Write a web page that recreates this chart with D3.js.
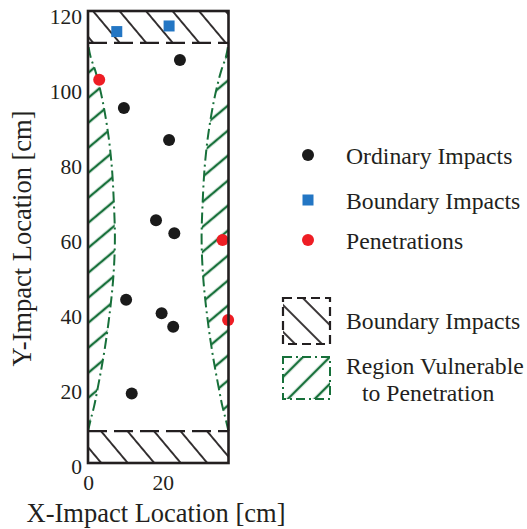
<!DOCTYPE html>
<html>
<head>
<meta charset="utf-8">
<script src="https://cdn.jsdelivr.net/npm/d3@7"></script>
<style>
  body { margin: 0; background: #fff; }
  svg { display: block; }
  text { font-family: "Liberation Serif", "Times New Roman", serif; fill: #231f20; }
</style>
</head>
<body>
<svg id="chart" width="527" height="529"></svg>
<script>
// ---- data (cm) ----
const xTicks = [0, 20];
const yTicks = [0, 20, 40, 60, 80, 100, 120];

const ordinaryX = [24.6, 9.6, 21.7, 18.2, 23.1, 10.2, 19.7, 22.8, 11.7];
const ordinaryY = [107.7, 94.9, 86.3, 64.9, 61.4, 43.6, 40.0, 36.4, 18.6];

const boundaryX = [7.7, 21.7];
const boundaryY = [115.3, 116.8];

const penetrationX = [3.0, 36.0, 37.5];
const penetrationY = [102.4, 59.6, 38.2];

// plate extent and the two boundary bands (bottom band top, top band bottom)
const plateWidth = 37.6;
const plateHeight = 120.8;
const bandLimits = [8.5, 112.3];

// edge of the vulnerable region: depth from the side edge at each height
const vulnY     = [8.5, 11.5, 15, 20, 30, 40, 50, 60.4, 70, 80, 90, 100, 105, 108.5, 112.3];
const vulnDepth = [0,   0.7,  1.6, 2.6, 4.4, 5.8, 6.8, 7.2, 6.9, 6.3, 5.1, 3.2, 1.9, 0.7, 0];

const legendLabels = ["Ordinary Impacts", "Boundary Impacts", "Penetrations"];
const regionLabels = [["Boundary Impacts"], ["Region Vulnerable", "to Penetration"]];

// ---- styling ----
const INK = "#231f20";
const GREEN = "#17703a";
const BLUE = "#2376c4";
const RED = "#ee1d24";

const svg = d3.select("#chart");

const x = d3.scaleLinear().domain([0, plateWidth]).range([88, 228.5]);
const y = d3.scaleLinear().domain([0, plateHeight]).range([463, 11]);

// ---- hatch patterns ----
const defs = svg.append("defs");
function hatch(id, spacing, transform, color, width) {
  const p = defs.append("pattern")
    .attr("id", id)
    .attr("patternUnits", "userSpaceOnUse")
    .attr("width", spacing)
    .attr("height", spacing)
    .attr("patternTransform", transform);
  [0, spacing].forEach(px => p.append("line")
    .attr("x1", px).attr("x2", px).attr("y1", -1).attr("y2", spacing + 1)
    .attr("stroke", color).attr("stroke-width", width));
}
hatch("hatchBand", 20.3, "translate(93,11) rotate(-40)", INK, 1.8);
hatch("hatchVuln", 19.15, "translate(88,198) rotate(50)", GREEN, 2.4);
hatch("hatchBandKey", 19, "translate(282,304) rotate(-45)", INK, 1.8);
hatch("hatchVulnKey", 19, "translate(282,378) rotate(45)", GREEN, 2.4);

// ---- vulnerable regions along both long edges ----
const vuln = vulnY.map((v, i) => ({ y: v, d: vulnDepth[i] }));

const leftArea = d3.area().curve(d3.curveMonotoneY)
  .y(p => y(p.y)).x0(x(0)).x1(p => x(p.d));
const rightArea = d3.area().curve(d3.curveMonotoneY)
  .y(p => y(p.y)).x0(x(plateWidth)).x1(p => x(plateWidth - p.d));

svg.append("path").attr("d", leftArea(vuln)).attr("fill", "url(#hatchVuln)");
svg.append("path").attr("d", rightArea(vuln)).attr("fill", "url(#hatchVuln)");

const leftEdge = d3.line().curve(d3.curveMonotoneY).y(p => y(p.y)).x(p => x(p.d));
const rightEdge = d3.line().curve(d3.curveMonotoneY).y(p => y(p.y)).x(p => x(plateWidth - p.d));
[leftEdge, rightEdge].forEach(gen => svg.append("path")
  .attr("d", gen(vuln))
  .attr("fill", "none")
  .attr("stroke", GREEN)
  .attr("stroke-width", 2)
  .attr("stroke-dasharray", "11,4,2,4"));

// ---- boundary bands (bottom and top) ----
const bands = [[0, bandLimits[0]], [bandLimits[1], plateHeight]];
bands.forEach(([lo, hi]) => svg.append("rect")
  .attr("x", x(0)).attr("width", x(plateWidth) - x(0))
  .attr("y", y(hi)).attr("height", y(lo) - y(hi))
  .attr("fill", "url(#hatchBand)"));

bandLimits.forEach(v => svg.append("line")
  .attr("x1", x(0)).attr("x2", x(plateWidth))
  .attr("y1", y(v)).attr("y2", y(v))
  .attr("stroke", INK).attr("stroke-width", 2.3)
  .attr("stroke-dasharray", "19,7"));

// ---- impacts ----
const ordinary = ordinaryX.map((v, i) => [v, ordinaryY[i]]);
const boundary = boundaryX.map((v, i) => [v, boundaryY[i]]);
const penetration = penetrationX.map((v, i) => [v, penetrationY[i]]);

svg.append("g").selectAll("circle").data(ordinary).join("circle")
  .attr("cx", d => x(d[0])).attr("cy", d => y(d[1])).attr("r", 6).attr("fill", "#1a1a1a");
svg.append("g").selectAll("rect").data(boundary).join("rect")
  .attr("x", d => x(d[0]) - 5.5).attr("y", d => y(d[1]) - 5.5)
  .attr("width", 11).attr("height", 11).attr("fill", BLUE);
svg.append("g").selectAll("circle").data(penetration).join("circle")
  .attr("cx", d => x(d[0])).attr("cy", d => y(d[1])).attr("r", 6).attr("fill", RED);

// ---- frame ----
svg.append("rect")
  .attr("x", x(0)).attr("y", y(plateHeight))
  .attr("width", x(plateWidth) - x(0)).attr("height", y(0) - y(plateHeight))
  .attr("fill", "none").attr("stroke", INK).attr("stroke-width", 2.6);

// ---- axes ----
const xAxis = svg.append("g").attr("transform", `translate(0,${y(0)})`)
  .call(d3.axisBottom(x).tickValues(xTicks).tickSize(0).tickPadding(0));
xAxis.select(".domain").remove();
xAxis.selectAll("text").attr("y", 27).attr("dy", null)
  .attr("font-size", 21.5).attr("font-family", "Liberation Serif").attr("fill", INK);

const yAxis = svg.append("g").attr("transform", `translate(${x(0)},0)`)
  .call(d3.axisLeft(y).tickValues(yTicks).tickSize(0).tickPadding(0));
yAxis.select(".domain").remove();
yAxis.selectAll("text").attr("x", -6).attr("dy", null).attr("y", 10)
  .attr("font-size", 21.5).attr("font-family", "Liberation Serif").attr("fill", INK);

svg.append("text")
  .attr("x", 156).attr("y", 522)
  .attr("text-anchor", "middle").attr("font-size", 26.5)
  .text("X-Impact Location [cm]");
svg.append("text")
  .attr("transform", "translate(31,238.5) rotate(-90)")
  .attr("text-anchor", "middle").attr("font-size", 26.5)
  .text("Y-Impact Location [cm]");

// ---- legend: markers ----
const key = svg.append("g");
key.append("circle").attr("cx", 308).attr("cy", 155).attr("r", 6).attr("fill", "#1a1a1a");
key.append("rect").attr("x", 302.5).attr("y", 194.5).attr("width", 11).attr("height", 11).attr("fill", BLUE);
key.append("circle").attr("cx", 308).attr("cy", 240).attr("r", 6).attr("fill", RED);
[164, 209, 249].forEach((by, i) => key.append("text")
  .attr("x", 346).attr("y", by).attr("font-size", 23.7).text(legendLabels[i]));

// ---- legend: regions ----
key.append("rect").attr("x", 283).attr("y", 298).attr("width", 47).attr("height", 46)
  .attr("fill", "url(#hatchBandKey)").attr("stroke", INK).attr("stroke-width", 2.2)
  .attr("stroke-dasharray", "9,5");
key.append("rect").attr("x", 283).attr("y", 357).attr("width", 47).attr("height", 42)
  .attr("fill", "url(#hatchVulnKey)").attr("stroke", GREEN).attr("stroke-width", 2)
  .attr("stroke-dasharray", "9,4,2,4");

key.append("text").attr("x", 346).attr("y", 329).attr("font-size", 23.7).text(regionLabels[0][0]);
key.append("text").attr("x", 346).attr("y", 374).attr("font-size", 23.7).text(regionLabels[1][0]);
key.append("text").attr("x", 362).attr("y", 401).attr("font-size", 23.7).text(regionLabels[1][1]);
</script>
</body>
</html>
